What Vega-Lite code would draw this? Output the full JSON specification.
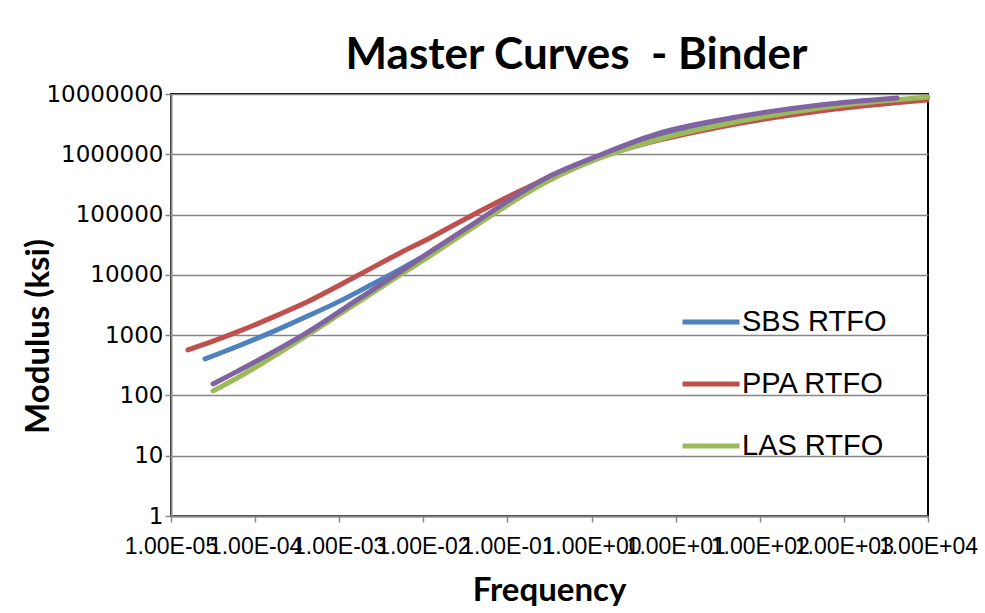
{
  "$schema": "https://vega.github.io/schema/vega-lite/v6.json",
  "autosize": {"type": "none"},
  "padding": {"left": 171, "top": 94, "right": 57, "bottom": 97},
  "width": 757,
  "height": 422,
  "background": "white",
  "title": {"text": "Master Curves \u00a0- Binder", "font": "Lato", "fontWeight": "bold", "fontSize": 44, "color": "black", "anchor": "middle", "dx": 27, "offset": 5},
  "data": {"values": [
    {"s": "SBS RTFO", "f": 2.54e-5, "m": 403},
    {"s": "SBS RTFO", "f": 6.31e-5, "m": 661},
    {"s": "SBS RTFO", "f": 1.58e-4, "m": 1122},
    {"s": "SBS RTFO", "f": 3.98e-4, "m": 1995},
    {"s": "SBS RTFO", "f": 1.0e-3, "m": 3631},
    {"s": "SBS RTFO", "f": 2.51e-3, "m": 7079},
    {"s": "SBS RTFO", "f": 6.31e-3, "m": 14125},
    {"s": "SBS RTFO", "f": 0.0120, "m": 23440},
    {"s": "SBS RTFO", "f": 0.0331, "m": 57700},
    {"s": "SBS RTFO", "f": 0.321, "m": 404600},
    {"s": "SBS RTFO", "f": 1.262, "m": 901600},
    {"s": "SBS RTFO", "f": 6.53, "m": 1936000},
    {"s": "SBS RTFO", "f": 33.7, "m": 3199000},
    {"s": "SBS RTFO", "f": 521, "m": 5623000},
    {"s": "SBS RTFO", "f": 4295, "m": 8414000},
    {"s": "PPA RTFO", "f": 1.59e-5, "m": 569},
    {"s": "PPA RTFO", "f": 3.16e-5, "m": 794},
    {"s": "PPA RTFO", "f": 6.6e-5, "m": 1175},
    {"s": "PPA RTFO", "f": 1.58e-4, "m": 1950},
    {"s": "PPA RTFO", "f": 3.72e-4, "m": 3311},
    {"s": "PPA RTFO", "f": 1.61e-3, "m": 9550},
    {"s": "PPA RTFO", "f": 5.28e-3, "m": 23070},
    {"s": "PPA RTFO", "f": 0.0120, "m": 40930},
    {"s": "PPA RTFO", "f": 0.0331, "m": 87900},
    {"s": "PPA RTFO", "f": 0.321, "m": 420700},
    {"s": "PPA RTFO", "f": 1.262, "m": 901600},
    {"s": "PPA RTFO", "f": 6.53, "m": 1730000},
    {"s": "PPA RTFO", "f": 33.7, "m": 2838000},
    {"s": "PPA RTFO", "f": 521, "m": 5224000},
    {"s": "PPA RTFO", "f": 9750, "m": 7943000},
    {"s": "LAS RTFO", "f": 3.16e-5, "m": 119},
    {"s": "LAS RTFO", "f": 6.04e-5, "m": 193},
    {"s": "LAS RTFO", "f": 3.72e-4, "m": 899},
    {"s": "LAS RTFO", "f": 1.63e-3, "m": 3420},
    {"s": "LAS RTFO", "f": 5.28e-3, "m": 9960},
    {"s": "LAS RTFO", "f": 0.0120, "m": 20560},
    {"s": "LAS RTFO", "f": 0.0331, "m": 52480},
    {"s": "LAS RTFO", "f": 0.321, "m": 375000},
    {"s": "LAS RTFO", "f": 1.262, "m": 868900},
    {"s": "LAS RTFO", "f": 6.53, "m": 1795000},
    {"s": "LAS RTFO", "f": 33.7, "m": 3062000},
    {"s": "LAS RTFO", "f": 521, "m": 5861000},
    {"s": "LAS RTFO", "f": 10000, "m": 8913000},
    {"s": "Series4", "f": 3.16e-5, "m": 155},
    {"s": "Series4", "f": 6.04e-5, "m": 248},
    {"s": "Series4", "f": 3.72e-4, "m": 1007},
    {"s": "Series4", "f": 1.63e-3, "m": 3837},
    {"s": "Series4", "f": 5.28e-3, "m": 11170},
    {"s": "Series4", "f": 0.0120, "m": 23990},
    {"s": "Series4", "f": 0.0331, "m": 59980},
    {"s": "Series4", "f": 0.321, "m": 436500},
    {"s": "Series4", "f": 1.262, "m": 972800},
    {"s": "Series4", "f": 6.53, "m": 2254000},
    {"s": "Series4", "f": 33.7, "m": 3707000},
    {"s": "Series4", "f": 521, "m": 6577000},
    {"s": "Series4", "f": 4295, "m": 8590000}
  ]},
  "encoding": {
    "x": {
      "field": "f", "type": "quantitative",
      "scale": {"type": "log", "domain": [1e-5, 10000], "nice": false},
      "axis": {
        "values": [1e-5, 1e-4, 1e-3, 1e-2, 1e-1, 1, 10, 100, 1000, 10000],
        "labelExpr": "'1.00E' + (round(log(datum.value)/LN10) < 0 ? '-' : '+') + (abs(round(log(datum.value)/LN10)) < 10 ? '0' : '') + abs(round(log(datum.value)/LN10))",
        "labelFont": "Liberation Sans", "labelFontSize": 23, "labelColor": "black",
        "labelOverlap": false, "labelFlush": false, "labelBound": false, "labelPadding": 13,
        "tickColor": "#868686", "tickSize": 6, "tickWidth": 1.5,
        "domainColor": "#868686", "domainWidth": 2, "grid": false,
        "title": "Frequency", "titleFont": "Lato", "titleFontSize": 33, "titleFontWeight": "bold", "titleColor": "black",
        "titleX": 378, "titleY": 74, "titleBaseline": "middle", "titleAlign": "center"
      }
    },
    "y": {
      "field": "m", "type": "quantitative",
      "scale": {"type": "log", "domain": [1, 10000000], "nice": false},
      "axis": {
        "values": [1, 10, 100, 1000, 10000, 100000, 1000000, 10000000],
        "format": "d",
        "labelFont": "DejaVu Sans", "labelFontSize": 23, "labelColor": "black", "labelPadding": 2,
        "labelOverlap": false, "labelBound": false, "labelFlush": false,
        "grid": true, "gridColor": "#868686", "gridWidth": 1.5,
        "tickColor": "#868686", "tickSize": 6, "tickWidth": 1.5,
        "domainColor": "#868686", "domainWidth": 2,
        "title": "Modulus (ksi)", "titleFont": "Lato", "titleFontSize": 33, "titleFontWeight": "bold", "titleColor": "black",
        "titleAngle": -90, "titleX": -133, "titleY": 242, "titleBaseline": "middle", "titleAlign": "center"
      }
    },
    "color": {
      "field": "s", "type": "nominal",
      "scale": {"domain": ["SBS RTFO", "PPA RTFO", "LAS RTFO", "Series4"], "range": ["#4F81BD", "#C0504D", "#9BBB59", "#8064A2"]},
      "legend": {
        "values": ["SBS RTFO", "PPA RTFO", "LAS RTFO"],
        "title": null, "orient": "none", "legendX": 509, "legendY": 197,
        "symbolType": "stroke", "symbolSize": 3249, "symbolStrokeWidth": 5,
        "labelFont": "Liberation Sans", "labelFontSize": 29, "labelColor": "black",
        "rowPadding": 16, "labelOffset": 0
      }
    }
  },
  "layer": [
    {"transform": [{"filter": "datum.s === 'SBS RTFO'"}], "mark": {"type": "line", "strokeWidth": 5, "strokeCap": "round", "interpolate": "monotone"}},
    {"transform": [{"filter": "datum.s === 'PPA RTFO'"}], "mark": {"type": "line", "strokeWidth": 5, "strokeCap": "round", "interpolate": "monotone"}},
    {"transform": [{"filter": "datum.s === 'LAS RTFO'"}], "mark": {"type": "line", "strokeWidth": 5, "strokeCap": "round", "interpolate": "monotone"}},
    {"transform": [{"filter": "datum.s === 'Series4'"}], "mark": {"type": "line", "strokeWidth": 5, "strokeCap": "round", "interpolate": "monotone"}}
  ],
  "config": {"view": {"stroke": "black", "strokeWidth": 2}}
}
